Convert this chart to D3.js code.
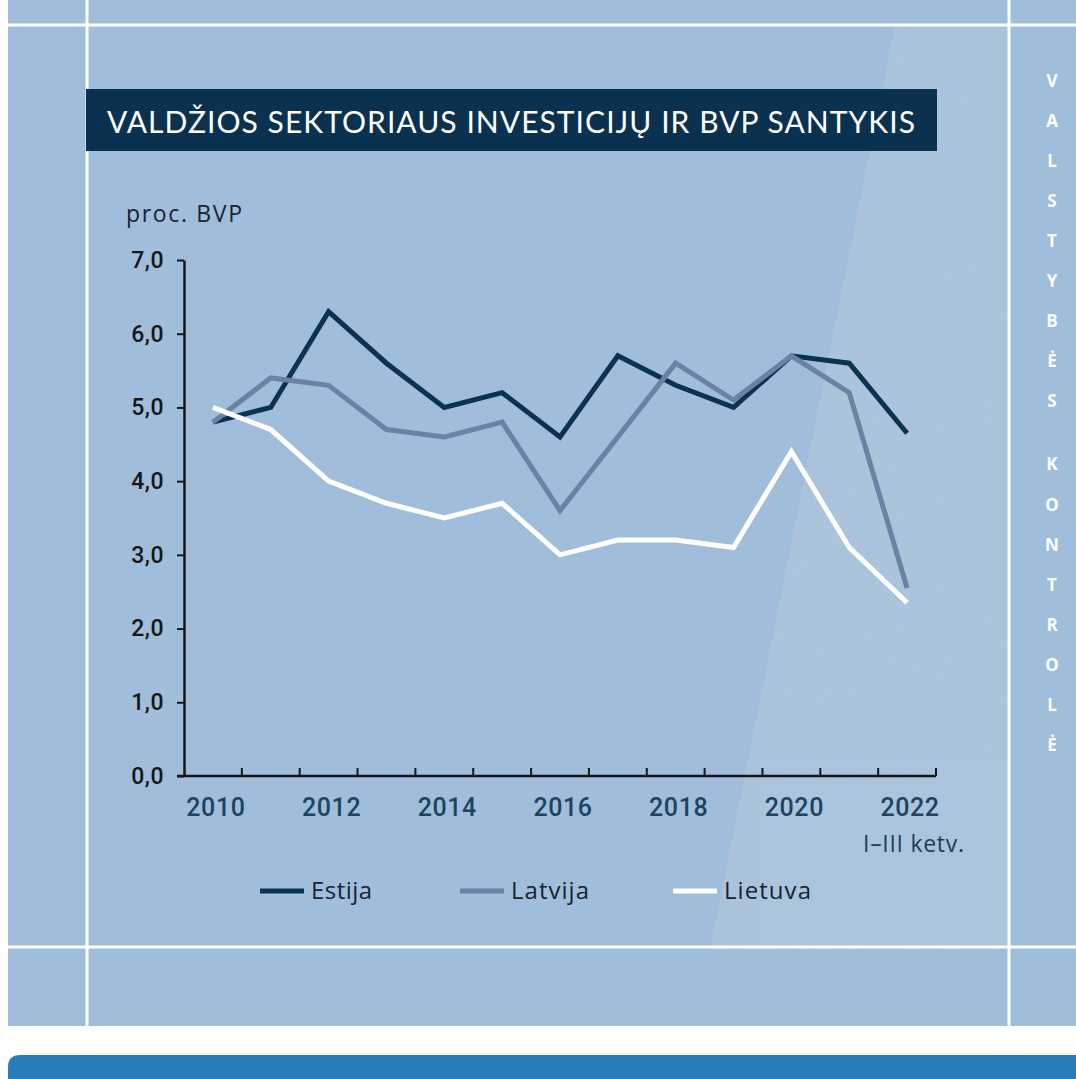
<!DOCTYPE html>
<html>
<head>
<meta charset="utf-8">
<script src="https://cdn.jsdelivr.net/npm/d3@7"></script>
<style>
html,body{margin:0;padding:0;background:#ffffff;}
svg{display:block;}
</style>
</head>
<body>
<svg id="chart" width="1076" height="1079"></svg>
<script>
// ---- data ----
const years = [2010,2011,2012,2013,2014,2015,2016,2017,2018,2019,2020,2021,2022];
const labelYears = [2010,2012,2014,2016,2018,2020,2022];
const estija  = [4.8,5.0,6.3,5.6,5.0,5.2,4.6,5.7,5.3,5.0,5.7,5.6,4.65];
const latvija = [4.8,5.4,5.3,4.7,4.6,4.8,3.6,4.6,5.6,5.1,5.7,5.2,2.55];
const lietuva = [5.0,4.7,4.0,3.7,3.5,3.7,3.0,3.2,3.2,3.1,4.4,3.1,2.35];
const yTicks = [0,1,2,3,4,5,6,7];
const seriesNames = ["Estija","Latvija","Lietuva"];
const titleText = "VALDŽIOS SEKTORIAUS INVESTICIJŲ IR BVP SANTYKIS";
const unitText = "proc. BVP";
const lastNote = "I–III ketv.";
const sideText = "VALSTYBĖS KONTROLĖ";

const colors = {Estija:"#0b3350", Latvija:"#6a82a4", Lietuva:"#ffffff"};
const series = [
  {name:"Estija", values:estija},
  {name:"Latvija", values:latvija},
  {name:"Lietuva", values:lietuva}
];

const svg = d3.select("#chart");

// fit a text element to a target width: grow font size up to a cap, then letter-spacing
function fitWidth(sel, target, baseSize, maxSize) {
  let w = sel.node().getComputedTextLength();
  let size = Math.min(maxSize, baseSize * target / w);
  sel.style("font-size", size + "px");
  w = sel.node().getComputedTextLength();
  const n = sel.text().length;
  sel.style("letter-spacing", ((target - w) / Math.max(1, n - 1)) + "px");
  return sel;
}

// ---- background ----
const defs = svg.append("defs");
const f = defs.append("filter").attr("id","noise").attr("x",0).attr("y",0).attr("width","100%").attr("height","100%");
f.append("feTurbulence").attr("type","fractalNoise").attr("baseFrequency",0.9).attr("numOctaves",2).attr("seed",3).attr("result","t");
f.append("feColorMatrix").attr("in","t").attr("type","matrix")
  .attr("values","0 0 0 0 1  0 0 0 0 1  0 0 0 0 1  0 0 0 0.35 -0.05");
defs.append("clipPath").attr("id","tex").append("polygon")
  .attr("points","895,26 1008,26 1008,946 711,946");

svg.append("rect").attr("x",8).attr("y",0).attr("width",1068).attr("height",1026).attr("fill","#a0bedb");
svg.append("polygon").attr("points","895,26 1008,26 1008,946 711,946").attr("fill","#a9c3dc");
svg.append("rect").attr("x",700).attr("y",20).attr("width",320).attr("height",930)
  .attr("clip-path","url(#tex)").attr("filter","url(#noise)").attr("opacity",0.2);

// white frame lines
svg.append("line").attr("x1",87).attr("x2",87).attr("y1",0).attr("y2",1026).attr("stroke","#ffffff").attr("stroke-width",3);
svg.append("line").attr("x1",1009).attr("x2",1009).attr("y1",0).attr("y2",1026).attr("stroke","#ffffff").attr("stroke-width",3);
svg.append("line").attr("x1",8).attr("x2",1076).attr("y1",25).attr("y2",25).attr("stroke","#ffffff").attr("stroke-width",3);
svg.append("line").attr("x1",8).attr("x2",1076).attr("y1",947).attr("y2",947).attr("stroke","#ffffff").attr("stroke-width",3);

// bottom blue bar
svg.append("path").attr("d","M8,1079 L8,1067 Q8,1055 20,1055 L1076,1055 L1076,1079 Z").attr("fill","#2a7db8");

// ---- title ----
svg.append("rect").attr("x",86).attr("y",89).attr("width",851).attr("height",62).attr("fill","#0a3150");
const title = svg.append("text").attr("x",107).attr("y",133).attr("fill","#ffffff")
  .style("font-family","Lato, 'Open Sans', sans-serif").style("font-size","30px").style("font-weight",400)
  .text(titleText);
fitWidth(title, 808, 30, 30);

// ---- side vertical text ----
{
  let yy = 80;
  const g = svg.append("g");
  for (const ch of sideText) {
    if (ch === " ") { yy += 23; continue; }
    g.append("text").attr("x",1052).attr("y",yy).attr("text-anchor","middle").attr("dominant-baseline","central")
      .attr("fill","#ffffff").style("font-family","'Open Sans', sans-serif").style("font-weight",700).style("font-size","17px")
      .text(ch);
    yy += 40.1;
  }
}

// ---- scales ----
const x = d3.scaleBand().domain(years).range([184, 936]).paddingInner(0).paddingOuter(0);
const y = d3.scaleLinear().domain([0,7]).range([776, 260]);
const cx = yr => x(yr) + x.bandwidth()/2;

// unit label
fitWidth(svg.append("text").attr("x",126).attr("y",222).attr("fill","#1a2230")
  .style("font-family","'Open Sans', sans-serif").style("font-size","21px").text(unitText), 116, 21, 23);

// y axis
const yAxis = d3.axisLeft(y).tickValues(yTicks).tickSize(7).tickSizeOuter(0).tickPadding(13)
  .tickFormat(d => d.toFixed(1).replace(".", ","));
const gy = svg.append("g").attr("transform","translate(184,0)").call(yAxis);
gy.select(".domain").attr("stroke","#161616").attr("stroke-width",2.5);
gy.selectAll(".tick line").attr("stroke","#161616").attr("stroke-width",2);
gy.selectAll(".tick text").attr("fill","#161616")
  .style("font-family","Roboto, sans-serif").style("font-size","23px").style("font-weight",500)
  .style("letter-spacing","0.5px");

// x axis (custom: ticks at band boundaries, pointing up)
const gx = svg.append("g");
gx.append("line").attr("x1",177).attr("x2",936).attr("y1",y(0)).attr("y2",y(0)).attr("stroke","#161616").attr("stroke-width",2.5);
const bounds = years.slice(1).map(yr => x(yr)).concat([x.range()[1]]);
gx.selectAll("line.tk").data(bounds).join("line").attr("class","tk")
  .attr("x1",d=>d).attr("x2",d=>d).attr("y1",y(0)).attr("y2",y(0)-8)
  .attr("stroke","#161616").attr("stroke-width",2);
gx.selectAll("text.yl").data(labelYears).join("text").attr("class","yl")
  .attr("x",d=>cx(d)+3).attr("y",816).attr("text-anchor","middle").attr("fill","#1b4461")
  .style("font-family","Roboto, sans-serif").style("font-size","25px").style("font-weight",500)
  .style("letter-spacing","0.6px")
  .text(d=>d);
const note = svg.append("text").attr("x",863).attr("y",852).attr("fill","#1b3f5a")
  .style("font-family","'Open Sans', sans-serif").style("font-size","21px").text(lastNote);
fitWidth(note, 101, 21, 23);

// ---- lines ----
const line = d3.line().x((d,i)=>cx(years[i])).y(d=>y(d));
svg.append("g").selectAll("path").data(series).join("path")
  .attr("d", d=>line(d.values)).attr("fill","none")
  .attr("stroke", d=>colors[d.name]).attr("stroke-width",5)
  .attr("stroke-linejoin","miter").attr("stroke-linecap","butt");

// ---- legend ----
const legendX = {Estija:260, Latvija:460, Lietuva:673};
const legendW = {Estija:61, Latvija:78, Lietuva:87};
const lg = svg.append("g");
seriesNames.forEach(n => {
  lg.append("line").attr("x1",legendX[n]).attr("x2",legendX[n]+44).attr("y1",891).attr("y2",891)
    .attr("stroke",colors[n]).attr("stroke-width",5);
  fitWidth(lg.append("text").attr("x",legendX[n]+51).attr("y",899).attr("fill","#1a2230")
    .style("font-family","'Open Sans', sans-serif").style("font-size","22px").text(n), legendW[n], 22, 24);
});
</script>
</body>
</html>
